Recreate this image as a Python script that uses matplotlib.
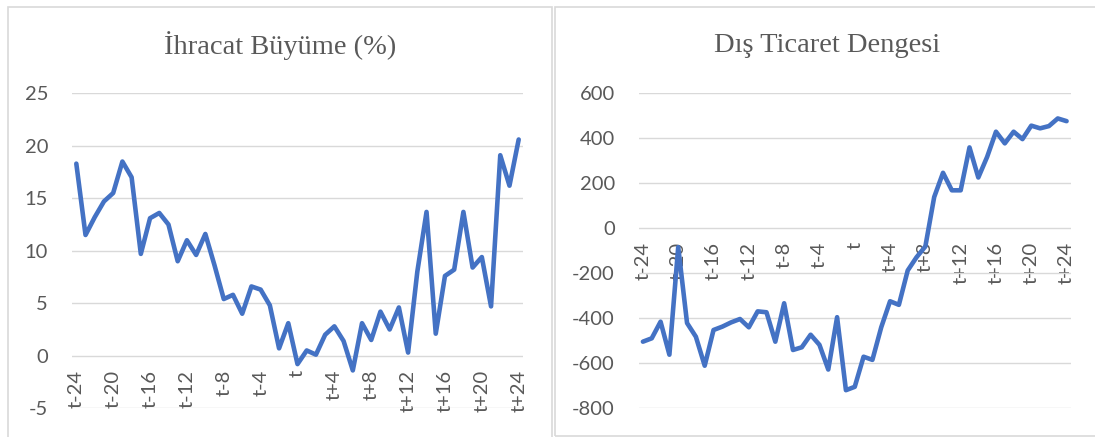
import matplotlib
matplotlib.use("Agg")
import matplotlib.pyplot as plt
from matplotlib.patches import Rectangle

# categories t-24 .. t+24
periods = ["t%+d" % k if k != 0 else "t" for k in range(-24, 25)]

ihracat = [18.3, 11.5, 13.2, 14.7, 15.5, 18.5, 17.0, 9.7, 13.1, 13.6,
           12.5, 9.0, 11.0, 9.6, 11.6, 8.6, 5.4, 5.8, 4.0, 6.6,
           6.3, 4.8, 0.7, 3.1, -0.8, 0.5, 0.1, 2.0, 2.8, 1.4,
           -1.4, 3.1, 1.5, 4.2, 2.5, 4.6, 0.3, 8.0, 13.7, 2.1,
           7.6, 8.2, 13.7, 8.4, 9.4, 4.7, 19.1, 16.2, 20.6]

denge = [-506, -491, -417, -564, -85, -423, -484, -613, -454, -439,
         -420, -405, -442, -371, -375, -506, -335, -543, -531, -475,
         -520, -630, -397, -722, -707, -573, -587, -442, -326, -342,
         -189, -130, -82, 138, 246, 168, 168, 359, 225, 317,
         429, 377, 429, 396, 456, 444, 454, 488, 476]

LINE = "#4472C4"
GRID = "#D9D9D9"
TXT = "#595959"

W, H = 1095, 437
fig = plt.figure(figsize=(W / 100, H / 100), dpi=100)

# panel frames (pixel coords -> figure fraction)
for x0, x1, y0, y1 in [(8, 552, 7, 440), (555, 1100, 7, 436)]:
    fig.patches.append(Rectangle((x0 / W, 1 - y1 / H), (x1 - x0) / W, (y1 - y0) / H,
                                 transform=fig.transFigure, fill=False,
                                 edgecolor=GRID, linewidth=1.2))


def panel(rect, values, yticks, title, title_x):
    ax = fig.add_axes(rect)
    xs = list(range(len(periods)))
    ax.plot(xs, values, color=LINE, linewidth=3.3,
            solid_joinstyle="round", solid_capstyle="round", zorder=3)
    ax.set_xlim(-0.5, len(periods) - 0.5)
    ax.set_ylim(yticks[0], yticks[-1])
    ax.set_yticks(yticks)
    ax.set_yticklabels([str(v) for v in yticks])
    ax.set_xticks(xs[::4])
    ax.set_xticklabels(periods[::4])
    ax.grid(axis="y", color=GRID, linewidth=1.0)
    ax.set_axisbelow(True)
    for s in ax.spines.values():
        s.set_visible(False)
    ax.spines["bottom"].set_position(("data", 0))
    ax.tick_params(axis="y", length=0, pad=17, labelsize=14.5, labelcolor=TXT)
    ax.tick_params(axis="x", length=0, pad=10, labelsize=14.5, labelcolor=TXT,
                   labelrotation=90)
    for lab in ax.get_xticklabels():
        lab.set_va("top")
        lab.set_ha("center")
    for lab in ax.get_xticklabels() + ax.get_yticklabels():
        lab.set_fontfamily("Lato")
    fig.text(title_x, 1 - 46 / H, title, ha="center", va="center",
             fontsize=20.5, color=TXT, family="Liberation Serif")
    return ax


panel([71.7 / W, 1 - 408.2 / H, (523.3 - 71.7) / W, (408.2 - 93.3) / H],
      ihracat, [-5, 0, 5, 10, 15, 20, 25], "İhracat Büyüme (%)", 280 / W)
panel([638.5 / W, 1 - 407.7 / H, (1071 - 638.5) / W, (407.7 - 93.3) / H],
      denge, [-800, -600, -400, -200, 0, 200, 400, 600], "Dış Ticaret Dengesi", 827 / W)

fig.savefig("out.png", dpi=100, facecolor="white")
